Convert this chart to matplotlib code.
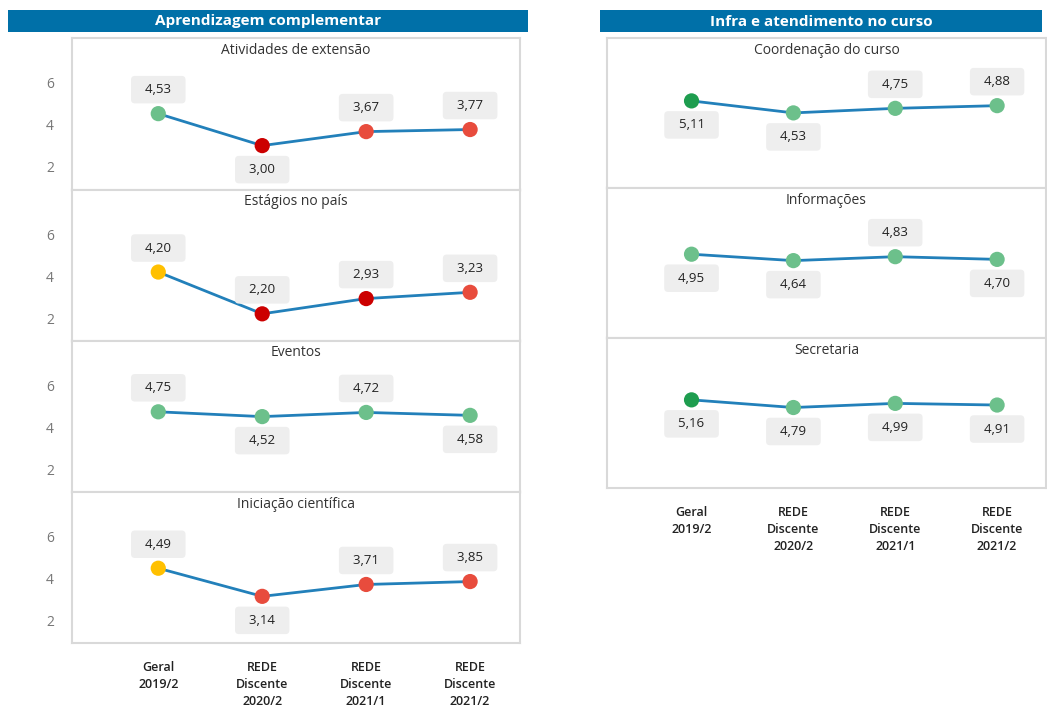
import matplotlib
matplotlib.use("Agg")
import matplotlib.pyplot as plt
from matplotlib.patches import Rectangle

plt.rcParams['font.family'] = ['Open Sans', 'DejaVu Sans']

categories = ["Geral\n2019/2", "REDE\nDiscente\n2020/2", "REDE\nDiscente\n2021/1", "REDE\nDiscente\n2021/2"]

left_title = "Aprendizagem complementar"
left_names = ["Atividades de extensão", "Estágios no país", "Eventos", "Iniciação científica"]
extensao = [4.53, 3.00, 3.67, 3.77]
estagios = [4.20, 2.20, 2.93, 3.23]
eventos = [4.75, 4.52, 4.72, 4.58]
iniciacao = [4.49, 3.14, 3.71, 3.85]
left_values = [extensao, estagios, eventos, iniciacao]

right_title = "Infra e atendimento no curso"
right_names = ["Coordenação do curso", "Informações", "Secretaria"]
coordenacao = [5.11, 4.53, 4.75, 4.88]
informacoes = [4.95, 4.64, 4.83, 4.70]
secretaria = [5.16, 4.79, 4.99, 4.91]
right_values = [coordenacao, informacoes, secretaria]

# label placement (+1 above, -1 below)
left_sides = [[1, -1, 1, 1], [1, 1, 1, 1], [1, -1, 1, -1], [1, -1, 1, 1]]
right_sides = [[-1, -1, 1, 1], [-1, -1, 1, -1], [-1, -1, -1, -1]]

yticks = [2, 4, 6]

W, H = 1047, 711
fig = plt.figure(figsize=(W / 100, H / 100), dpi=100)
fig.patch.set_facecolor('white')

LINE = '#2280BA'
FRAME = '#d9d9d9'


def color_for(v):
    if v <= 3.0:
        return '#CC0000'
    if v < 4.0:
        return '#E84C3D'
    if v < 4.5:
        return '#FFC000'
    if v < 5.0:
        return '#6CC08B'
    return '#1E9D4F'


def fig_rect(x0, y0, x1, y1):
    return [x0 / W, 1 - y1 / H, (x1 - x0) / W, (y1 - y0) / H]


def header(x0, x1, text):
    r = Rectangle((x0 / W, 1 - 32 / H), (x1 - x0) / W, 22 / H, transform=fig.transFigure,
                  facecolor='#0070A8', edgecolor='none')
    fig.patches.append(r)
    fig.text((x0 + x1) / 2 / W, 1 - 21.5 / H, text, color='white', fontsize=11,
             fontweight='bold', ha='center', va='center')


def panel(y0, y1, x0, x1, name, vals, sides, show_y, show_x):
    ax = fig.add_axes(fig_rect(x0, y0, x1, y1))
    x = list(range(len(vals)))
    ax.plot(x, vals, color=LINE, lw=2, zorder=2)
    ax.scatter(x, vals, s=120, c=[color_for(v) for v in vals], zorder=3, linewidths=0)
    for xi, v, s in zip(x, vals, sides):
        ax.annotate("  " + f"{v:.2f}".replace('.', ',') + "  ", (xi, v), xytext=(0, 24 * s),
                    textcoords='offset pixels', ha='center', va='center', fontsize=9.5,
                    color='#222222', fontweight='medium',
                    bbox=dict(boxstyle='round,pad=0.55,rounding_size=0.3', fc='#EEEEEE', ec='none'))
    ax.set_xlim(-0.83, 3.48)
    ax.set_ylim(0.9, 8.15)
    ax.text(0.5, 1 - 12 / (y1 - y0), name, transform=ax.transAxes, ha='center', va='center',
            fontsize=10, color='#333333')
    for sp in ax.spines.values():
        sp.set_color(FRAME)
        sp.set_linewidth(1.5)
    ax.set_yticks(yticks)
    if show_y:
        ax.set_yticklabels([str(t) for t in yticks], color='#777777', fontsize=10)
    else:
        ax.set_yticklabels([])
    ax.tick_params(axis='y', length=0, pad=13)
    ax.set_xticks(x)
    if show_x:
        ax.set_xticklabels(categories, fontsize=9, color='#222222', fontweight='semibold',
                           linespacing=1.4, va='top')
        ax.tick_params(axis='x', length=0, pad=13)
    else:
        ax.set_xticklabels([])
        ax.tick_params(axis='x', length=0)
    return ax


header(8, 528, left_title)
header(600, 1042, right_title)

left_bounds = [38, 189.5, 341, 492, 643]
for i, (name, vals) in enumerate(zip(left_names, left_values)):
    panel(left_bounds[i], left_bounds[i + 1], 72, 520, name, vals, left_sides[i],
          True, i == len(left_names) - 1)

right_bounds = [38, 188, 338, 488]
for i, (name, vals) in enumerate(zip(right_names, right_values)):
    panel(right_bounds[i], right_bounds[i + 1], 607, 1046, name, vals, right_sides[i],
          False, i == len(right_names) - 1)

fig.savefig('out.png', dpi=100, facecolor='white')
